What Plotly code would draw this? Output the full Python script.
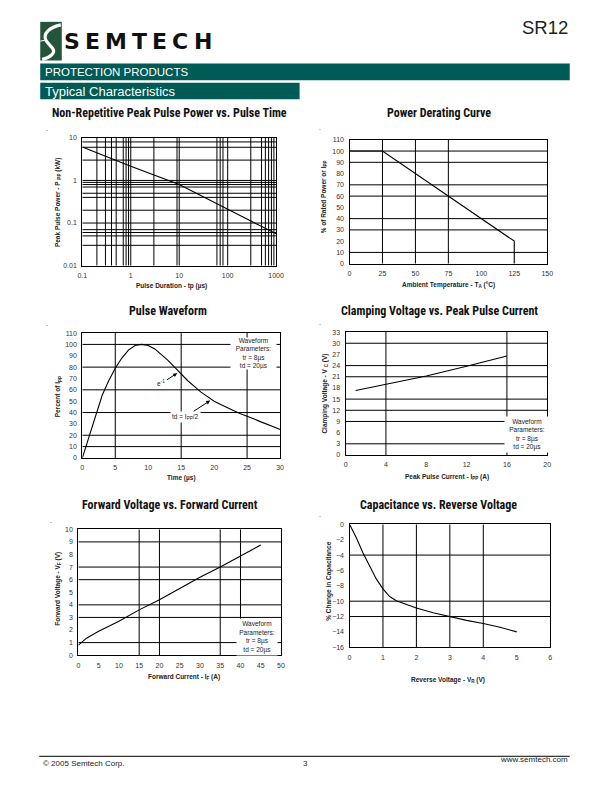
import plotly.graph_objects as go

W, H = 612, 792

# ---------------- data ----------------
# Non-repetitive peak pulse power vs pulse time (log-log)
pp_time_us = [0.1, 1, 10, 100, 1000]
pp_power_kw = [6.1, 2.15, 0.8, 0.215, 0.056]
pp_xgrid = [0.2, 0.3, 0.4, 0.5, 0.7, 0.8, 0.9, 1, 3, 9, 10, 60, 70, 80, 100, 300, 500, 600, 700, 800, 900]
pp_ygrid = [0.03, 0.05, 0.06, 0.07, 0.1, 0.2, 0.4, 0.5, 0.7, 0.8, 0.9, 1, 3, 6, 8]

# Power derating curve
der_temp = [0, 25, 125, 125]
der_pct = [100, 100, 20, 0]
der_xgrid = [25, 50, 75]
der_ygrid = [10, 30, 40, 60, 70, 90, 100]

# Pulse waveform
pw_time = [0, 1, 2, 3, 4, 5, 6, 7, 8, 9, 10, 11, 12, 13, 14, 15, 16, 17, 18, 19, 20,
           21, 22, 23, 24, 25, 26, 27, 28, 29, 30]
pw_pct = [0, 18, 38, 55, 68, 79, 88, 95, 99, 100, 99, 96, 91, 86, 80, 74, 68, 63, 58, 54, 50,
          47, 44, 41.5, 39, 37, 34.5, 32, 30, 27.5, 25]
pw_xgrid = [5, 15, 25]
pw_ygrid = [10, 20, 40, 60, 80, 100]

# Clamping voltage vs peak pulse current
cv_current = [1, 4, 8, 12, 16]
cv_voltage = [17.3, 19.0, 21.2, 23.8, 26.6]
cv_xgrid = [4, 16]
cv_ygrid = [3, 9, 12, 15, 21, 24, 30]

# Forward voltage vs forward current
fv_current = [0, 1, 2, 5, 10, 15, 20, 25, 30, 35, 40, 45]
fv_voltage = [0.8, 1.1, 1.35, 1.9, 2.7, 3.6, 4.4, 5.3, 6.2, 7.0, 7.9, 8.75]
fv_xgrid = [15, 20, 35, 40]
fv_ygrid = [1, 3, 4, 6, 7, 9]

# Capacitance vs reverse voltage
cap_vr = [0, 0.2, 0.4, 0.6, 0.8, 1.0, 1.2, 1.4, 1.7, 2.0, 2.5, 3.0, 3.5, 4.0, 4.5, 5.0]
cap_pct = [0, -1.7, -3.7, -5.5, -7.1, -8.4, -9.4, -9.95, -10.4, -10.9, -11.5, -12.0, -12.5, -12.9, -13.4, -14.0]
cap_xgrid = [1, 2, 3, 4]
cap_ygrid = [-4, -10, -12]

TEAL = "#005A55"
FONT = "Liberation Sans, Arial, sans-serif"
NARROW = "Liberation Sans Narrow, Roboto Condensed, Liberation Sans, sans-serif"


def px(x):
    return x / W


def py(y):
    return 1 - y / H


fig = go.Figure()

panels = [
    ("", (79, 277), (135, 264), [-1, 3], [-2, 1], "log", "log",
     dict(tickvals=[0.1, 1, 10, 100, 1000], ticktext=["0.1", "1", "10", "100", "1000"]),
     dict(tickvals=[0.01, 0.1, 1, 10], ticktext=["0.01", "0.1", "1", "10"]),
     pp_xgrid, pp_ygrid, (0.1, 1000), (0.01, 10)),
    ("2", (352, 554), (137, 262), [0, 150], [0, 110], "linear", "linear",
     dict(tick0=0, dtick=25), dict(tick0=0, dtick=10), der_xgrid, der_ygrid, (0, 150), (0, 110)),
    ("3", (79, 281), (332, 458), [0, 30], [0, 110], "linear", "linear",
     dict(tick0=0, dtick=5), dict(tick0=0, dtick=10), pw_xgrid, pw_ygrid, (0, 30), (0, 110)),
    ("4", (348, 554), (331, 455), [0, 20], [0, 33], "linear", "linear",
     dict(tick0=0, dtick=4), dict(tick0=0, dtick=3), cv_xgrid, cv_ygrid, (0, 20), (0, 33)),
    ("5", (75, 282), (530, 657), [0, 50], [0, 10], "linear", "linear",
     dict(tick0=0, dtick=5), dict(tick0=0, dtick=1), fv_xgrid, fv_ygrid, (0, 50), (0, 10)),
    ("6", (352, 557), (525, 649), [0, 6], [-16, 0], "linear", "linear",
     dict(tick0=0, dtick=1), dict(tick0=-16, dtick=2), cap_xgrid, cap_ygrid, (0, 6), (-16, 0)),
]

series = [
    (pp_time_us, pp_power_kw),
    (der_temp, der_pct),
    (pw_time, pw_pct),
    (cv_current, cv_voltage),
    (fv_current, fv_voltage),
    (cap_vr, cap_pct),
]

layout = {}
for (suf, xd, yd, xr, yr, xt, yt, xtk, ytk, xg, yg, xlim, ylim), (sx, sy) in zip(panels, series):
    xa = "x" + suf
    ya = "y" + suf
    common = dict(showline=True, mirror=True, linecolor="black", linewidth=1.2,
                  showgrid=False, zeroline=False, ticks="outside", ticklen=3,
                  tickcolor="rgba(0,0,0,0)",
                  tickfont=dict(family=FONT, size=7, color="#333"), fixedrange=True)
    layout["xaxis" + suf] = dict(common, domain=[px(xd[0]), px(xd[1])], range=xr, type=xt,
                                 anchor=ya, **xtk)
    layout["yaxis" + suf] = dict(common, domain=[py(yd[1]), py(yd[0])], range=yr, type=yt,
                                 anchor=xa, **ytk)
    gx, gy = [], []
    for v in xg:
        gx += [v, v, None]
        gy += [ylim[0], ylim[1], None]
    for v in yg:
        gx += [xlim[0], xlim[1], None]
        gy += [v, v, None]
    fig.add_trace(go.Scatter(x=gx, y=gy, mode="lines", line=dict(color="black", width=1),
                             xaxis=xa, yaxis=ya, hoverinfo="skip", showlegend=False))
    fig.add_trace(go.Scatter(x=sx, y=sy, mode="lines", line=dict(color="black", width=1.1),
                             xaxis=xa, yaxis=ya, showlegend=False))

ann = []


def text(x, y, s, size=7, bold=False, family=FONT, color="#222", xanchor="center",
         angle=0, yanchor="middle"):
    ann.append(dict(x=px(x), y=py(y), xref="paper", yref="paper", text=s, showarrow=False,
                    xanchor=xanchor, yanchor=yanchor, textangle=angle,
                    font=dict(family=family, size=size, color=color,
                              weight="bold" if bold else "normal")))


titles = [
    (168, 110, "Non-Repetitive Peak Pulse Power vs. Pulse Time"),
    (443, 110, "Power Derating Curve"),
    (167, 310, "Pulse Waveform"),
    (444, 310, "Clamping Voltage vs. Peak Pulse Current"),
    (169, 505, "Forward Voltage vs. Forward Current"),
    (443, 505, "Capacitance vs. Reverse Voltage"),
]
for x, y, s in titles:
    text(x, y, s, size=12, bold=True, family=NARROW, color="#111")

for x, y in [(43, 126), (322, 125), (43, 322), (322, 321), (47, 521), (322, 515)]:
    text(x, y, ".", size=7, color="#333")

xtitles = [
    (170, 285, "Pulse Duration - tp (µs)"),
    (453, 284, "Ambient Temperature - T<sub>A</sub> (°C)"),
    (180, 478, "Time (µs)"),
    (452, 477, "Peak Pulse Current - I<sub>PP</sub> (A)"),
    (183, 679, "Forward Current - I<sub>F</sub> (A)"),
    (453, 682, "Reverse Voltage - V<sub>R</sub> (V)"),
]
for x, y, s in xtitles:
    text(x, y, s, size=6.5, bold=True)
ytitles = [
    (54, 200, "Peak Pulse Power - P <sub>PP</sub> (kW)"),
    (326, 195, "% of Rated Power or I<sub>PP</sub>"),
    (54, 396, "Percent of I<sub>PP</sub>"),
    (326, 393, "Clamping Voltage - V <sub>C</sub> (V)"),
    (54, 590, "Forward Voltage - V<sub>F</sub> (V)"),
    (331, 582, "% Change in Capacitance"),
]
for x, y, s in ytitles:
    text(x, y, s, size=6.5, bold=True, angle=-90)

wf = "Waveform<br>Parameters:<br>tr = 8µs<br>td = 20µs"
for xr_, yr_, xv, yv, bw, bh in [("x3", "y3", 26.0, 92.1, 45, 31),
                                 ("x4", "y4", 17.96, 5.46, 44, 35),
                                 ("x5", "y5", 44.1, 1.42, 40, 36)]:
    ann.append(dict(x=xv, y=yv, xref=xr_, yref=yr_, text=wf, showarrow=False,
                    bgcolor="white", borderpad=0, align="center", width=bw, height=bh,
                    font=dict(family=FONT, size=6.5, color="#222")))

ann.append(dict(x=14.4, y=74.7, xref="x3", yref="y3", ax=12.0, ay=65.7, axref="x3", ayref="y3",
                text="e<sup>-1</sup>", showarrow=True, arrowhead=2, arrowsize=0.8, arrowwidth=1,
                arrowcolor="black", font=dict(family=FONT, size=6.5, color="#222")))
ann.append(dict(x=19.4, y=50.5, xref="x3", yref="y3", ax=15.6, ay=36.3, axref="x3", ayref="y3",
                text="td = I<sub>PP</sub>/2", showarrow=True, arrowhead=2, arrowsize=0.8,
                arrowwidth=1, arrowcolor="black", bgcolor="white",
                font=dict(family=FONT, size=6.5, color="#222")))

# header
shapes = []
shapes.append(dict(type="rect", xref="paper", yref="paper", x0=px(36), x1=px(58), y0=py(57),
                   y1=py(18), fillcolor="#24553A", line=dict(width=0), layer="above"))


def path(pts):
    s = "M {} {}".format(px(pts[0][0]), py(pts[0][1]))
    rest = pts[1:]
    for i in range(0, len(rest), 3):
        a, b, c = rest[i:i + 3]
        s += " C {} {}, {} {}, {} {}".format(px(a[0]), py(a[1]), px(b[0]), py(b[1]),
                                            px(c[0]), py(c[1]))
    return s


shapes.append(dict(type="path", xref="paper", yref="paper",
                   path=path([(57, 21), (46, 23), (38, 30), (42, 37),
                              (46, 43), (53, 46), (48, 51),
                              (45, 54), (41, 55), (38, 56)]),
                   line=dict(color="white", width=3.2), layer="above"))
shapes.append(dict(type="line", xref="paper", yref="paper", x0=px(36), x1=px(41), y0=py(37.5),
                   y1=py(36.5), line=dict(color="white", width=1), layer="above"))

# SEMTECH wordmark, letters spread across the reference width
logo = "SEMTECH"
adv = {"S": 0.720, "E": 0.683, "M": 0.995, "T": 0.682, "C": 0.734, "H": 0.837}
lsize = 22
widths = [adv[c] * lsize for c in logo]
gap = (211 - 61 - sum(widths)) / (len(logo) - 1)
cx = 61
for c, w in zip(logo, widths):
    text(cx + w / 2, 38, c, size=lsize, bold=True, family="DejaVu Sans", color="#111")
    cx += w + gap

text(577, 24, "SR12", size=18.5, family=FONT, color="#222", xanchor="right")

shapes.append(dict(type="rect", xref="paper", yref="paper", x0=px(36), x1=px(577), y0=py(77),
                   y1=py(60), fillcolor=TEAL, line=dict(width=0)))
shapes.append(dict(type="rect", xref="paper", yref="paper", x0=px(36), x1=px(301), y0=py(96),
                   y1=py(79.5), fillcolor=TEAL, line=dict(width=0)))
text(39, 68.5, "PROTECTION PRODUCTS", size=11.5, family=FONT, color="white", xanchor="left")
text(39, 88, "Typical Characteristics", size=13, family=FONT, color="white", xanchor="left")

# footer
shapes.append(dict(type="line", xref="paper", yref="paper", x0=px(35), x1=px(577), y0=py(759),
                   y1=py(759), line=dict(color="black", width=1)))
text(37, 766, "© 2005 Semtech Corp.", size=8, xanchor="left")
text(307, 766, "3", size=8)
text(577, 762, "www.semtech.com", size=8, xanchor="right")

fig.update_layout(**layout)
fig.update_layout(width=W, height=H, margin=dict(l=0, r=0, t=0, b=0),
                  paper_bgcolor="white", plot_bgcolor="white",
                  annotations=ann, shapes=shapes, showlegend=False)

css = ("var s=document.createElement('style');"
       "s.textContent='html,body{margin:0;padding:0;overflow:hidden;}';"
       "document.head.appendChild(s);")
fig.write_html("out.html", config={"displayModeBar": False}, post_script=css)
